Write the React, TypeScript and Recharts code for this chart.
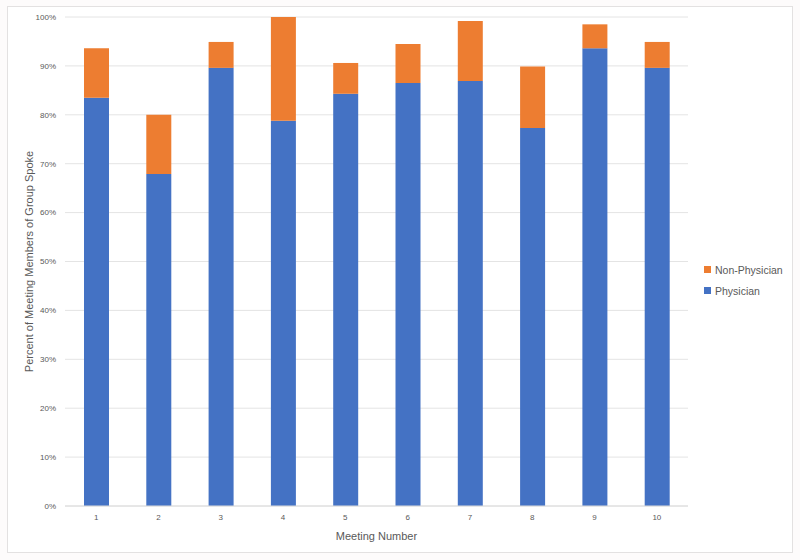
import React from "react";
import {
  Bar,
  BarChart,
  CartesianGrid,
  Legend,
  XAxis,
  YAxis,
} from "recharts";

const meetings: string[] = ["1", "2", "3", "4", "5", "6", "7", "8", "9", "10"];
const physician: number[] = [83.5, 67.9, 89.6, 78.8, 84.3, 86.5, 86.9, 77.3, 93.6, 89.6];
const nonPhysician: number[] = [10.1, 12.1, 5.3, 21.2, 6.3, 8.0, 12.3, 12.6, 4.9, 5.3];
const yTicks: number[] = [0, 10, 20, 30, 40, 50, 60, 70, 80, 90, 100];

const BLUE = "#4472C4";
const ORANGE = "#ED7D31";
const FONT = "'Liberation Sans', Arial, sans-serif";

const data = meetings.map((m, i) => ({
  meeting: m,
  physician: physician[i],
  nonPhysician: nonPhysician[i],
}));

const legendItems = [
  { label: "Non-Physician", color: ORANGE },
  { label: "Physician", color: BLUE },
];

function LegendBox() {
  return (
    <div style={{ fontFamily: FONT, fontSize: 10.5, color: "#595959" }}>
      {legendItems.map((item) => (
        <div
          key={item.label}
          style={{ display: "flex", alignItems: "center", height: 21 }}
        >
          <span
            style={{
              width: 7,
              height: 7,
              background: item.color,
              marginRight: 4,
              display: "inline-block",
            }}
          />
          <span>{item.label}</span>
        </div>
      ))}
    </div>
  );
}

export default function App() {
  return (
    <div
      style={{
        position: "absolute",
        left: 0,
        top: 0,
        width: 800,
        height: 560,
        background: "#fdfbfb",
      }}
    >
      <div
        style={{
          position: "absolute",
          left: 7,
          top: 6,
          width: 784,
          height: 545,
          border: "1px solid #e3e1e1",
          background: "#ffffff",
        }}
      />
      <div style={{ position: "absolute", left: 0, top: 0 }}>
        <BarChart
          width={800}
          height={560}
          data={data}
          margin={{ top: 17, right: 112, bottom: 0, left: 0 }}
        >
          <CartesianGrid vertical={false} stroke="#e4e4e4" />
          <XAxis
            dataKey="meeting"
            height={54}
            tickLine={false}
            tickSize={0}
            tickMargin={8}
            axisLine={{ stroke: "#dcdcdc" }}
            tick={{ fill: "#595959", fontSize: 8, fontFamily: FONT }}
            label={{
              value: "Meeting Number",
              position: "insideBottom",
              offset: 20,
              fill: "#595959",
              fontSize: 11,
              fontFamily: FONT,
            }}
          />
          <YAxis
            width={65}
            domain={[0, 100]}
            ticks={yTicks}
            tickFormatter={(v: number) => `${v}%`}
            axisLine={false}
            tickLine={false}
            tickSize={0}
            tickMargin={9}
            tick={{ fill: "#595959", fontSize: 8, fontFamily: FONT }}
            label={{
              value: "Percent of Meeting Members of Group Spoke",
              angle: -90,
              position: "center",
              dx: -3,
              fill: "#595959",
              fontSize: 11,
              fontFamily: FONT,
            }}
          />
          <Legend
            layout="horizontal"
            verticalAlign="middle"
            align="center"
            content={() => <LegendBox />}
            wrapperStyle={{ left: 704, top: 259, width: 90 }}
          />
          <Bar
            dataKey="physician"
            name="Physician"
            stackId="a"
            fill={BLUE}
            barSize={25}
            isAnimationActive={false}
          />
          <Bar
            dataKey="nonPhysician"
            name="Non-Physician"
            stackId="a"
            fill={ORANGE}
            barSize={25}
            isAnimationActive={false}
          />
        </BarChart>
      </div>
    </div>
  );
}
